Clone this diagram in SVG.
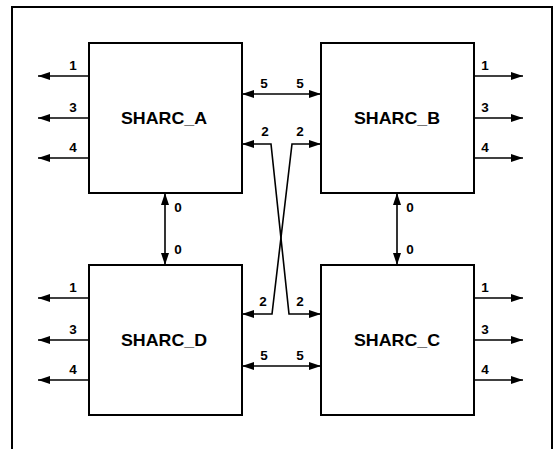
<svg xmlns="http://www.w3.org/2000/svg" width="553" height="449" viewBox="0 0 553 449">
<defs>
<style>
.frame{fill:none;stroke:#000;stroke-width:2}
.box{fill:#fff;stroke:#000;stroke-width:2}
.c{fill:none;stroke:#000;stroke-width:1.6}
.t{font-family:"Liberation Sans",Arial,sans-serif;font-weight:bold;font-size:17px;text-anchor:middle}
.l{font-family:"Liberation Sans",Arial,sans-serif;font-weight:bold;font-size:13.5px;text-anchor:middle}
</style>
<marker id="ah" viewBox="0 0 12 8" refX="12" refY="4" markerWidth="12" markerHeight="8" markerUnits="userSpaceOnUse" orient="auto-start-reverse">
<path d="M0,0 L12,4 L0,8 Z" fill="#000"/>
</marker>
</defs>
<rect width="553" height="449" fill="#fff"/>
<path class="frame" d="M12,452 V7 H552 V452"/>
<g id="SHARC_A"><rect class="box" x="89" y="43" width="153" height="150"/><text class="t" x="164" y="124" textLength="86" lengthAdjust="spacingAndGlyphs">SHARC_A</text></g>
<g id="SHARC_B"><rect class="box" x="321" y="43" width="153" height="150"/><text class="t" x="397" y="124" textLength="86" lengthAdjust="spacingAndGlyphs">SHARC_B</text></g>
<g id="SHARC_D"><rect class="box" x="89" y="265" width="153" height="150"/><text class="t" x="164" y="346" textLength="86" lengthAdjust="spacingAndGlyphs">SHARC_D</text></g>
<g id="SHARC_C"><rect class="box" x="321" y="265" width="153" height="150"/><text class="t" x="397" y="346" textLength="86" lengthAdjust="spacingAndGlyphs">SHARC_C</text></g>
<g id="connectors">
<path class="c" d="M89,76 H38" marker-end="url(#ah)"/>
<path class="c" d="M89,118 H38" marker-end="url(#ah)"/>
<path class="c" d="M89,158 H38" marker-end="url(#ah)"/>
<path class="c" d="M474,76 H523" marker-end="url(#ah)"/>
<path class="c" d="M474,118 H523" marker-end="url(#ah)"/>
<path class="c" d="M474,158 H523" marker-end="url(#ah)"/>
<path class="c" d="M89,298 H38" marker-end="url(#ah)"/>
<path class="c" d="M89,340 H38" marker-end="url(#ah)"/>
<path class="c" d="M89,380 H38" marker-end="url(#ah)"/>
<path class="c" d="M474,298 H523" marker-end="url(#ah)"/>
<path class="c" d="M474,340 H523" marker-end="url(#ah)"/>
<path class="c" d="M474,380 H523" marker-end="url(#ah)"/>
<path class="c" d="M242,94 H321" marker-start="url(#ah)" marker-end="url(#ah)"/>
<path class="c" d="M242,366 H321" marker-start="url(#ah)" marker-end="url(#ah)"/>
<path class="c" d="M165,193 V265" marker-start="url(#ah)" marker-end="url(#ah)"/>
<path class="c" d="M397,193 V265" marker-start="url(#ah)" marker-end="url(#ah)"/>
<path class="c" d="M242,144 H271 L289,314 H321" marker-start="url(#ah)" marker-end="url(#ah)"/>
<path class="c" d="M321,144 H292 L272,314 H242" marker-start="url(#ah)" marker-end="url(#ah)"/>
</g>
<g id="labels">
<text class="l" x="73" y="70">1</text>
<text class="l" x="73" y="112">3</text>
<text class="l" x="73" y="152">4</text>
<text class="l" x="485" y="70">1</text>
<text class="l" x="485" y="112">3</text>
<text class="l" x="485" y="152">4</text>
<text class="l" x="73" y="292">1</text>
<text class="l" x="73" y="334">3</text>
<text class="l" x="73" y="374">4</text>
<text class="l" x="485" y="292">1</text>
<text class="l" x="485" y="334">3</text>
<text class="l" x="485" y="374">4</text>
<text class="l" x="264" y="88">5</text>
<text class="l" x="300" y="88">5</text>
<text class="l" x="264" y="360">5</text>
<text class="l" x="300" y="360">5</text>
<text class="l" x="265" y="136">2</text>
<text class="l" x="300" y="136">2</text>
<text class="l" x="263" y="306">2</text>
<text class="l" x="300" y="306">2</text>
<text class="l" x="178" y="212">0</text>
<text class="l" x="178" y="254">0</text>
<text class="l" x="410" y="212">0</text>
<text class="l" x="410" y="254">0</text>
</g>
</svg>
